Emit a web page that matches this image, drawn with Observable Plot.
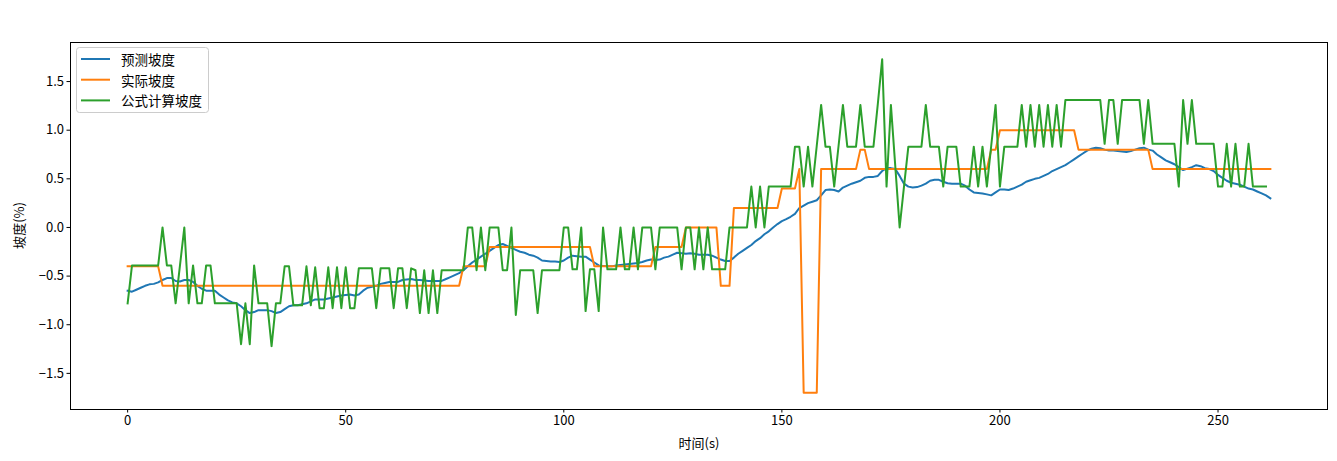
<!DOCTYPE html>
<html>
<head>
<meta charset="utf-8">
<script src="https://cdn.jsdelivr.net/npm/d3@7"></script>
<script src="https://cdn.jsdelivr.net/npm/@observablehq/plot@0.6"></script>
<style>
  html, body { margin: 0; padding: 0; background: #fff; }
  #chart { position: relative; width: 1337px; height: 461px; }
</style>
</head>
<body>
<div id="chart"></div>
<script>
// ---- Data ----
const seriesNames = ["预测坡度", "实际坡度", "公式计算坡度"];
const seriesColors = ["#1f77b4", "#ff7f0e", "#2ca02c"];
const xTicks = [0, 50, 100, 150, 200, 250];
const yTicks = [-1.5, -1.0, -0.5, 0.0, 0.5, 1.0, 1.5];
const xLabel = "时间(s)";
const yLabel = "坡度(%)";

// 预测坡度 (t = 0..262)
const predicted = [
  -0.65,-0.66,-0.64,-0.62,-0.6,-0.585,-0.58,-0.565,-0.54,-0.52,
  -0.52,-0.55,-0.555,-0.54,-0.54,-0.56,-0.6,-0.63,-0.65,-0.65,
  -0.65,-0.69,-0.72,-0.75,-0.77,-0.78,-0.81,-0.85,-0.88,-0.87,
  -0.85,-0.85,-0.85,-0.86,-0.88,-0.87,-0.84,-0.81,-0.8,-0.8,
  -0.79,-0.78,-0.76,-0.74,-0.74,-0.74,-0.73,-0.72,-0.71,-0.7,
  -0.695,-0.69,-0.7,-0.69,-0.65,-0.62,-0.61,-0.6,-0.58,-0.57,
  -0.56,-0.56,-0.56,-0.54,-0.535,-0.53,-0.54,-0.54,-0.545,-0.55,
  -0.55,-0.55,-0.55,-0.53,-0.51,-0.49,-0.47,-0.44,-0.4,-0.36,
  -0.33,-0.3,-0.27,-0.24,-0.21,-0.18,-0.17,-0.19,-0.21,-0.23,
  -0.25,-0.26,-0.28,-0.29,-0.31,-0.34,-0.345,-0.35,-0.35,-0.355,
  -0.34,-0.31,-0.29,-0.295,-0.3,-0.3,-0.33,-0.36,-0.39,-0.395,
  -0.4,-0.4,-0.39,-0.385,-0.38,-0.375,-0.37,-0.365,-0.355,-0.34,
  -0.33,-0.335,-0.33,-0.31,-0.3,-0.28,-0.26,-0.265,-0.27,-0.265,
  -0.27,-0.28,-0.28,-0.28,-0.29,-0.31,-0.33,-0.345,-0.345,-0.31,
  -0.27,-0.24,-0.21,-0.18,-0.14,-0.11,-0.07,-0.04,0,0.035,
  0.065,0.085,0.11,0.14,0.2,0.225,0.25,0.265,0.28,0.33,
  0.385,0.39,0.385,0.37,0.41,0.43,0.45,0.465,0.48,0.51,
  0.52,0.52,0.53,0.58,0.61,0.61,0.6,0.53,0.45,0.42,
  0.41,0.415,0.43,0.45,0.48,0.49,0.49,0.47,0.455,0.45,
  0.45,0.45,0.43,0.39,0.36,0.355,0.35,0.34,0.33,0.36,
  0.39,0.39,0.385,0.4,0.42,0.44,0.47,0.485,0.5,0.51,
  0.53,0.55,0.58,0.6,0.62,0.64,0.67,0.7,0.73,0.76,
  0.79,0.81,0.82,0.815,0.8,0.79,0.79,0.785,0.78,0.775,
  0.785,0.8,0.815,0.82,0.8,0.79,0.75,0.72,0.69,0.67,
  0.65,0.62,0.59,0.605,0.62,0.64,0.63,0.61,0.6,0.58,
  0.54,0.51,0.48,0.46,0.45,0.44,0.42,0.4,0.39,0.37,
  0.35,0.33,0.3
];

// 实际坡度 (t = 0..262)
const actual = [
  -0.4,-0.4,-0.4,-0.4,-0.4,-0.4,-0.4,-0.4,-0.6,-0.6,
  -0.6,-0.6,-0.6,-0.6,-0.6,-0.6,-0.6,-0.6,-0.6,-0.6,
  -0.6,-0.6,-0.6,-0.6,-0.6,-0.6,-0.6,-0.6,-0.6,-0.6,
  -0.6,-0.6,-0.6,-0.6,-0.6,-0.6,-0.6,-0.6,-0.6,-0.6,
  -0.6,-0.6,-0.6,-0.6,-0.6,-0.6,-0.6,-0.6,-0.6,-0.6,
  -0.6,-0.6,-0.6,-0.6,-0.6,-0.6,-0.6,-0.6,-0.6,-0.6,
  -0.6,-0.6,-0.6,-0.6,-0.6,-0.6,-0.6,-0.6,-0.6,-0.6,
  -0.6,-0.6,-0.6,-0.6,-0.6,-0.6,-0.6,-0.4,-0.4,-0.4,
  -0.4,-0.4,-0.4,-0.2,-0.2,-0.2,-0.2,-0.2,-0.2,-0.2,
  -0.2,-0.2,-0.2,-0.2,-0.2,-0.2,-0.2,-0.2,-0.2,-0.2,
  -0.2,-0.2,-0.2,-0.2,-0.2,-0.2,-0.2,-0.4,-0.4,-0.4,
  -0.4,-0.4,-0.4,-0.4,-0.4,-0.4,-0.4,-0.4,-0.4,-0.4,
  -0.4,-0.2,-0.2,-0.2,-0.2,-0.2,-0.2,-0.2,0,0,
  0,0,0,0,0,0,-0.6,-0.6,-0.6,0.2,
  0.2,0.2,0.2,0.2,0.2,0.2,0.2,0.2,0.2,0.2,
  0.4,0.4,0.4,0.4,0.6,-1.7,-1.7,-1.7,-1.7,0.6,
  0.6,0.6,0.6,0.6,0.6,0.6,0.6,0.6,0.8,0.8,
  0.6,0.6,0.6,0.6,0.6,0.6,0.6,0.6,0.6,0.6,
  0.6,0.6,0.6,0.6,0.6,0.6,0.6,0.6,0.6,0.6,
  0.6,0.6,0.6,0.6,0.6,0.6,0.6,0.6,0.8,0.8,
  1,1,1,1,1,1,1,1,1,1,
  1,1,1,1,1,1,1,1,0.8,0.8,
  0.8,0.8,0.8,0.8,0.8,0.8,0.8,0.8,0.8,0.8,
  0.8,0.8,0.8,0.8,0.8,0.6,0.6,0.6,0.6,0.6,
  0.6,0.6,0.6,0.6,0.6,0.6,0.6,0.6,0.6,0.6,
  0.6,0.6,0.6,0.6,0.6,0.6,0.6,0.6,0.6,0.6,
  0.6,0.6,0.6
];

// 公式计算坡度 (t = 0..261)
const formula = [
  -0.78,-0.39,-0.39,-0.39,-0.39,-0.39,-0.39,-0.39,0,-0.39,
  -0.39,-0.78,-0.39,0,-0.78,-0.39,-0.78,-0.78,-0.39,-0.39,
  -0.78,-0.78,-0.78,-0.78,-0.78,-0.78,-1.2,-0.78,-1.2,-0.39,
  -0.78,-0.78,-0.78,-1.22,-0.78,-0.78,-0.4,-0.4,-0.8,-0.8,
  -0.8,-0.4,-0.8,-0.41,-0.83,-0.83,-0.41,-0.83,-0.41,-0.83,
  -0.41,-0.83,-0.83,-0.42,-0.42,-0.42,-0.42,-0.83,-0.42,-0.42,
  -0.42,-0.83,-0.42,-0.42,-0.83,-0.42,-0.44,-0.88,-0.44,-0.88,
  -0.44,-0.88,-0.44,-0.44,-0.44,-0.44,-0.44,-0.44,0,0,
  -0.44,0,-0.44,0,0,0,-0.44,-0.44,0,-0.9,
  -0.44,-0.44,-0.44,-0.44,-0.88,-0.44,-0.44,-0.44,-0.44,-0.44,
  0,0,-0.43,-0.43,0,-0.86,-0.43,-0.43,-0.86,0,
  -0.43,-0.43,-0.43,0,-0.43,-0.43,0,-0.43,0,0,
  0,-0.43,0,0,0,0,0,-0.43,0,0,
  -0.43,0,-0.43,0,-0.43,-0.43,-0.43,-0.43,0,0,
  0,0,0,0.42,0,0.42,0,0.42,0.42,0.42,
  0.42,0.42,0.42,0.83,0.83,0.42,0.83,0.42,0.84,1.26,
  0.83,0.83,0.42,0.84,1.26,0.83,0.83,0.83,1.26,0.83,
  0.83,0.83,1.27,1.73,0.42,1.26,0.63,0,0.42,0.83,
  0.83,0.83,0.83,1.26,0.83,0.83,0.83,0.42,0.83,0.83,
  0.83,0.42,0.42,0.42,0.83,0.42,0.83,0.42,0.84,1.26,
  0.42,0.83,0.83,0.83,0.83,1.26,0.83,1.26,0.83,1.26,
  0.83,1.26,0.83,1.26,0.83,1.31,1.31,1.31,1.31,1.31,
  1.31,1.31,1.31,1.31,0.86,1.31,1.31,0.86,1.31,1.31,
  1.31,1.31,1.31,0.86,1.31,0.86,0.86,0.86,0.86,0.86,
  0.86,0.42,1.31,0.86,1.31,0.86,0.86,0.86,0.86,0.86,
  0.42,0.42,0.86,0.42,0.86,0.42,0.42,0.86,0.42,0.42,
  0.42,0.42
];

// ---- Build tidy table ----
const allSeries = [predicted, actual, formula];
const rows = [];
allSeries.forEach((arr, s) => arr.forEach((v, i) => rows.push({t: i, v, s: seriesNames[s]})));

// matplotlib-like 5% margins
const xMax = d3.max(allSeries, a => a.length - 1);
const yMin = d3.min(allSeries, a => d3.min(a));
const yMax = d3.max(allSeries, a => d3.max(a));
const xPad = xMax * 0.05, yPad = (yMax - yMin) * 0.05;

const FONT = "'Noto Sans CJK SC', 'Noto Sans', sans-serif";

const chart = Plot.plot({
  width: 1337,
  height: 461,
  marginLeft: 70,
  marginRight: 10,
  marginTop: 42,
  marginBottom: 52,
  style: {fontFamily: FONT, fontSize: "13px", color: "#000", background: "#fff", overflow: "visible"},
  x: {domain: [-xPad, xMax + xPad]},
  y: {domain: [yMin - yPad, yMax + yPad]},
  color: {domain: seriesNames, range: seriesColors},
  marks: [
    Plot.axisX({ticks: xTicks, tickSize: 3.5, tickPadding: 3, label: xLabel, labelAnchor: "center", labelArrow: "none", labelOffset: 38, fontSize: 13, tickFormat: d => String(d)}),
    Plot.axisY({ticks: yTicks, tickSize: 3.5, tickPadding: 3, label: null, fontSize: 13, tickFormat: d3.format(".1f")}),
    ...seriesNames.map((name, k) =>
      Plot.line(rows.filter(r => r.s === name), {x: "t", y: "v", stroke: seriesColors[k], strokeWidth: 2, strokeLinejoin: "round", strokeLinecap: "square"})
    ),
    Plot.frame({stroke: "#000", strokeWidth: 1})
  ]
});

document.getElementById("chart").appendChild(chart);

// y-axis title (rotated), placed like matplotlib
const svg = d3.select(chart);
svg.append("text")
  .attr("transform", "translate(18," + (42 + (461 - 52 - 42) / 2) + ") rotate(-90)")
  .attr("text-anchor", "middle")
  .attr("dominant-baseline", "central")
  .style("font-family", FONT)
  .style("font-size", "13px")
  .attr("fill", "#000")
  .text(yLabel);

// Legend (upper left, inside the frame)
const lg = svg.append("g").attr("transform", "translate(76.5,47.5)");
lg.append("rect")
  .attr("width", 132).attr("height", 65).attr("rx", 3)
  .attr("fill", "#fff").attr("fill-opacity", 0.8)
  .attr("stroke", "#ccc").attr("stroke-width", 1);
seriesNames.forEach((name, k) => {
  const y = 11.5 + k * 20.7;
  lg.append("line").attr("x1", 4.5).attr("x2", 33.5).attr("y1", y).attr("y2", y)
    .attr("stroke", seriesColors[k]).attr("stroke-width", 2);
  lg.append("text").attr("x", 44.5).attr("y", y)
    .attr("text-anchor", "start")
    .attr("dominant-baseline", "central")
    .style("font-family", FONT).style("font-size", "13.5px").attr("fill", "#000").text(name);
});
</script>
</body>
</html>
